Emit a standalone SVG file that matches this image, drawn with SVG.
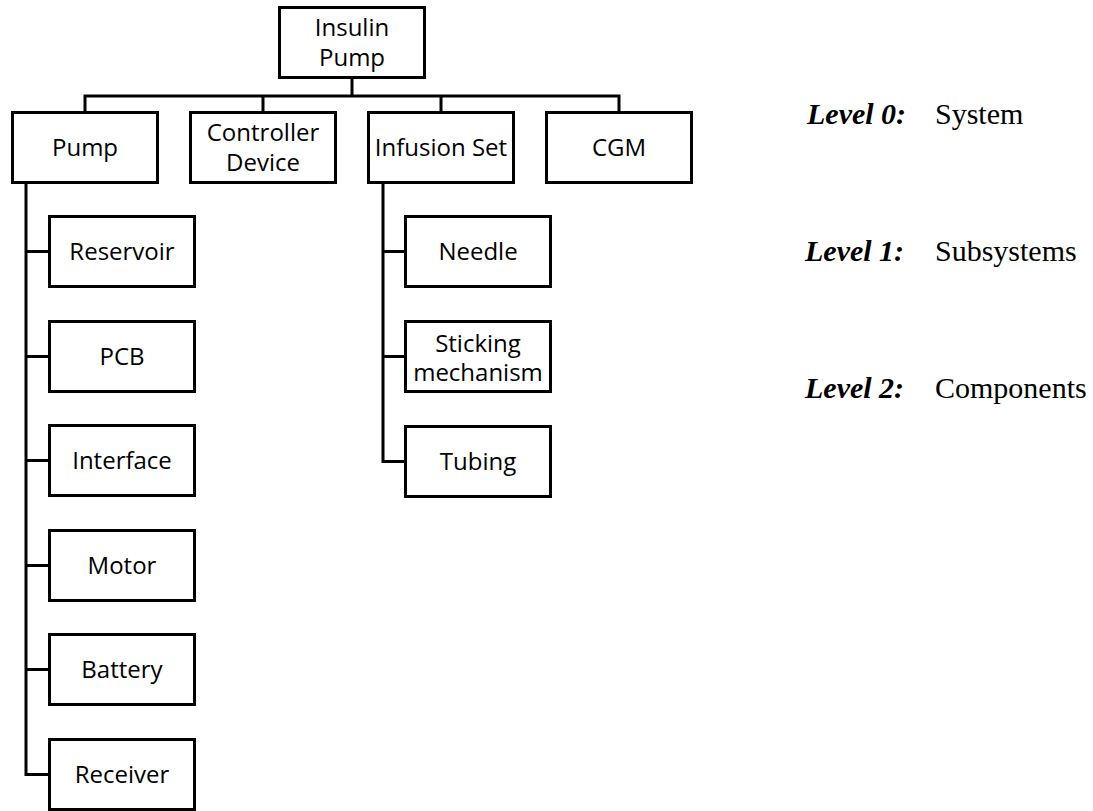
<svg xmlns="http://www.w3.org/2000/svg" width="1093" height="811" viewBox="0 0 1093 811">
<style>
.box{fill:#fff;stroke:#000;stroke-width:3}
.lbl{font-family:"Open Sans","Liberation Sans",sans-serif;font-size:24px;fill:#000;text-anchor:middle}
.con{fill:none;stroke:#000;stroke-width:3;stroke-linejoin:miter}
.lv{font-family:"Liberation Serif","Times New Roman",serif;font-size:30px;fill:#000}
.lvb{font-weight:bold;font-style:italic}
</style>
<rect width="1093" height="811" fill="#fff"/>
<g id="connectors">
<path class="con" d="M352 79V96M85 111V96H619V111M263 96V111M441 96V111"/>
<path class="con" d="M26 184V774.5H48M26 251.5H48M26 356.5H48M26 460.5H48M26 565.5H48M26 669.5H48"/>
<path class="con" d="M383 184V461.5H404M383 251.5H404M383 356.5H404"/>
</g>
<g id="insulin-pump"><rect class="box" x="279.5" y="7.5" width="145" height="70"/><text class="lbl" x="352" y="36">Insulin<tspan x="352" dy="30">Pump</tspan></text></g>
<g id="pump"><rect class="box" x="12.5" y="112.5" width="145" height="70"/><text class="lbl" x="85" y="155.5">Pump</text></g>
<g id="controller"><rect class="box" x="190.5" y="112.5" width="145" height="70"/><text class="lbl" x="263" y="141">Controller<tspan x="263" dy="30">Device</tspan></text></g>
<g id="infusion-set"><rect class="box" x="368.5" y="112.5" width="145" height="70"/><text class="lbl" x="441" y="155.5">Infusion Set</text></g>
<g id="cgm"><rect class="box" x="546.5" y="112.5" width="145" height="70"/><text class="lbl" x="619" y="155.5">CGM</text></g>
<g id="reservoir"><rect class="box" x="49.5" y="216.5" width="145" height="70"/><text class="lbl" x="122" y="260">Reservoir</text></g>
<g id="pcb"><rect class="box" x="49.5" y="321.5" width="145" height="70"/><text class="lbl" x="122" y="365">PCB</text></g>
<g id="interface"><rect class="box" x="49.5" y="425.5" width="145" height="70"/><text class="lbl" x="122" y="469">Interface</text></g>
<g id="motor"><rect class="box" x="49.5" y="530.5" width="145" height="70"/><text class="lbl" x="122" y="574">Motor</text></g>
<g id="battery"><rect class="box" x="49.5" y="634.5" width="145" height="70"/><text class="lbl" x="122" y="678">Battery</text></g>
<g id="receiver"><rect class="box" x="49.5" y="739.5" width="145" height="70"/><text class="lbl" x="122" y="783">Receiver</text></g>
<g id="needle"><rect class="box" x="405.5" y="216.5" width="145" height="70"/><text class="lbl" x="478" y="260">Needle</text></g>
<g id="sticking"><rect class="box" x="405.5" y="321.5" width="145" height="70"/><text class="lbl" x="478" y="352">Sticking<tspan x="478" dy="29">mechanism</tspan></text></g>
<g id="tubing"><rect class="box" x="405.5" y="426.5" width="145" height="70"/><text class="lbl" x="478" y="470">Tubing</text></g>
<g id="levels">
<text class="lv" x="807" y="124"><tspan class="lvb">Level 0:</tspan><tspan x="935">System</tspan></text>
<text class="lv" x="805" y="261"><tspan class="lvb">Level 1:</tspan><tspan x="935">Subsystems</tspan></text>
<text class="lv" x="805" y="398"><tspan class="lvb">Level 2:</tspan><tspan x="935">Components</tspan></text>
</g>
</svg>
